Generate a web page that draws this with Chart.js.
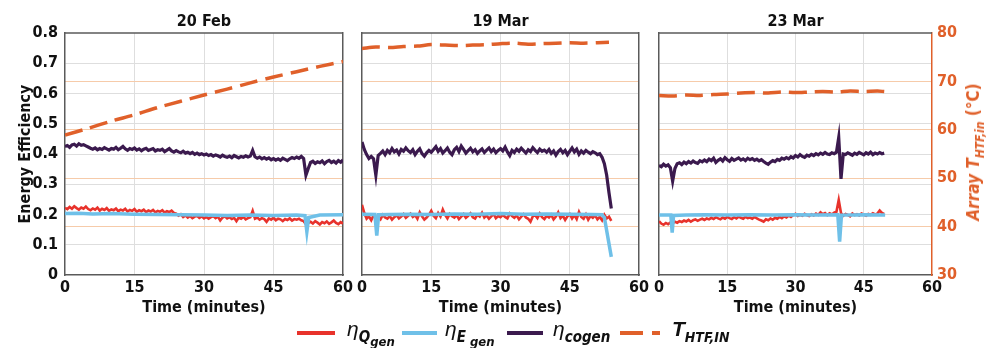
<!DOCTYPE html>
<html>
<head>
<meta charset="utf-8">
<script src="https://cdn.jsdelivr.net/npm/chart.js@4"></script>
<style>
body { margin: 0; background: #fff; }
#lienzo { position: relative; width: 988px; height: 348px; overflow: hidden; font-family: 'Liberation Sans Narrow', 'DejaVu Sans Condensed', sans-serif; }
canvas { position: absolute; left: 0; top: 0; }
.sw { position: absolute; height: 4px; top: 331px; }
.etq { position: absolute; top: 317px; font-size: 21px; line-height: 24px; font-style: italic; color: #111; font-family: 'Liberation Sans', sans-serif; white-space: nowrap; }
.etq .s1 { position: relative; top: 6px; font-size: 15px; font-weight: bold; font-family: 'Liberation Sans Narrow', 'DejaVu Sans Condensed', sans-serif; }
.etq .s2 { position: relative; top: 4px; font-size: 13px; }
#tituloDer { position: absolute; left: 973px; top: 152px; transform: translate(-50%, -50%) rotate(-90deg); color: #e0602a; font-size: 17px; font-weight: bold; font-style: italic; white-space: nowrap; }
#tituloDer .s1 { position: relative; top: 5px; font-size: 12px; }
</style>
</head>
<body>
<div id="lienzo">
  <canvas id="panel1" width="988" height="348"></canvas>
  <canvas id="panel2" width="988" height="348"></canvas>
  <canvas id="panel3" width="988" height="348"></canvas>
  <div id="tituloDer">Array T<span class="s1">HTF,in</span> <span style="font-style:normal">(°C)</span></div>

  <div class="sw" style="left:297px;width:38px;background:#e8322b"></div>
  <div class="etq" style="left:347px">η<span class="s1">Q<span class="s2">gen</span></span></div>
  <div class="sw" style="left:402px;width:35px;background:#6fc0e8"></div>
  <div class="etq" style="left:445px">η<span class="s1">E<span class="s2"> gen</span></span></div>
  <div class="sw" style="left:507px;width:36px;background:#3b1a4e"></div>
  <div class="etq" style="left:553px">η<span class="s1">cogen</span></div>
  <div class="sw" style="left:620px;width:23px;background:#e0602a"></div>
  <div class="sw" style="left:652px;width:8px;background:#e0602a"></div>
  <div class="etq" style="left:672px;font-weight:bold">T<span class="s1" style="font-size:14px">HTF,IN</span></div>
</div>

<script>
// muestras cada medio minuto para las series con ruido
const paso = 0.5;

const titulos = ['20 Feb', '19 Mar', '23 Mar'];
const ticksTiempo = [0, 15, 30, 45, 60];
const ticksEficiencia = [0, 0.1, 0.2, 0.3, 0.4, 0.5, 0.6, 0.7, 0.8];
const ticksTemperatura = [30, 40, 50, 60, 70, 80];

// ---- 20 Feb ----
const cogenFeb20 = [
    0.425, 0.428, 0.422, 0.430, 0.432, 0.426, 0.434, 0.429, 0.431, 0.427, 0.423, 0.419, 0.416, 0.420, 0.414, 0.418, 0.415, 0.421, 0.417, 0.413, 0.418,
    0.416, 0.422, 0.414, 0.419, 0.425, 0.417, 0.412, 0.418, 0.415, 0.420, 0.413, 0.417, 0.411, 0.416, 0.419, 0.412, 0.415, 0.418, 0.410, 0.414,
    0.412, 0.416, 0.408, 0.413, 0.418, 0.410, 0.406, 0.411, 0.407, 0.404, 0.409, 0.403, 0.406, 0.401, 0.405, 0.399, 0.403, 0.398, 0.401, 0.397,
    0.400, 0.395, 0.398, 0.393, 0.397, 0.394, 0.390, 0.396, 0.392, 0.389, 0.393, 0.388, 0.395, 0.391, 0.387, 0.392, 0.389, 0.394, 0.390, 0.393,
    0.412, 0.391, 0.386, 0.390, 0.384, 0.388, 0.383, 0.387, 0.381, 0.385, 0.380, 0.384, 0.379, 0.386, 0.382, 0.378, 0.384, 0.388, 0.385, 0.390,
    0.386, 0.392, 0.385, 0.330, 0.352, 0.372, 0.376, 0.369, 0.374, 0.371, 0.377, 0.368, 0.375, 0.379, 0.372, 0.376, 0.370, 0.378, 0.373, 0.380
];
const qgenFeb20 = [
    0.222, 0.218, 0.225, 0.219, 0.227, 0.221, 0.216, 0.223, 0.219, 0.226, 0.218, 0.214, 0.220, 0.216, 0.223, 0.213, 0.219, 0.215, 0.221, 0.212, 0.217,
    0.214, 0.220, 0.211, 0.216, 0.213, 0.219, 0.210, 0.215, 0.212, 0.218, 0.209, 0.214, 0.211, 0.216, 0.208, 0.213, 0.210, 0.215, 0.207, 0.212,
    0.209, 0.214, 0.206, 0.211, 0.208, 0.213, 0.205, 0.203, 0.196, 0.201, 0.192, 0.197, 0.190, 0.195, 0.188, 0.193, 0.196, 0.189, 0.194, 0.187,
    0.192, 0.186, 0.191, 0.195, 0.188, 0.193, 0.180, 0.190, 0.194, 0.187, 0.191, 0.185, 0.189, 0.178, 0.190, 0.186, 0.192, 0.184, 0.188, 0.191,
    0.212, 0.186, 0.190, 0.183, 0.188, 0.185, 0.176, 0.187, 0.183, 0.189, 0.181, 0.186, 0.184, 0.178, 0.185, 0.182, 0.187, 0.180, 0.185, 0.183,
    0.186, 0.181, 0.178, 0.168, 0.172, 0.176, 0.170, 0.178, 0.173, 0.167, 0.175, 0.171, 0.177, 0.169, 0.174, 0.180, 0.172, 0.168, 0.175, 0.170
];
const tiempoEgenFeb20 = [0, 3, 6, 10, 15, 20, 25, 30, 35, 40, 45, 50, 51.8, 52.2, 52.6, 55, 60];
const egenFeb20 = [0.203, 0.204, 0.202, 0.203, 0.201, 0.200, 0.199, 0.198, 0.197, 0.198, 0.197, 0.198, 0.196, 0.143, 0.190, 0.198, 0.199];
const tiempoTempFeb20 = [0, 5, 10, 15, 20, 25, 30, 35, 40, 45, 50, 55, 60];
const tempFeb20 = [58.9, 60.3, 61.8, 63.1, 64.6, 65.9, 67.2, 68.4, 69.7, 70.9, 72.0, 73.1, 74.1];

// ---- 19 Mar ----
const cogenMar19 = [
    0.440, 0.415, 0.398, 0.385, 0.392, 0.384, 0.330, 0.395, 0.402, 0.410, 0.398, 0.412, 0.404, 0.418, 0.407, 0.413, 0.400, 0.415, 0.409, 0.420, 0.411,
    0.405, 0.414, 0.398, 0.409, 0.417, 0.401, 0.393, 0.404, 0.412, 0.406, 0.415, 0.424, 0.409, 0.418, 0.403, 0.411, 0.420, 0.406, 0.398, 0.414,
    0.422, 0.408, 0.426, 0.415, 0.403, 0.411, 0.419, 0.407, 0.414, 0.402, 0.410, 0.417, 0.405, 0.413, 0.420, 0.408, 0.416, 0.404, 0.412, 0.418,
    0.410, 0.423, 0.407, 0.395, 0.412, 0.405, 0.416, 0.409, 0.419, 0.411, 0.403, 0.414, 0.408, 0.421, 0.412, 0.405, 0.416, 0.409, 0.413, 0.406,
    0.415, 0.402, 0.410, 0.396, 0.408, 0.415, 0.404, 0.412, 0.398, 0.409, 0.420, 0.407, 0.416, 0.399, 0.410, 0.403, 0.412, 0.406, 0.401, 0.408,
    0.404, 0.398, 0.401, 0.389, 0.368, 0.330, 0.272, 0.220
];
const qgenMar19 = [
    0.232, 0.205, 0.186, 0.194, 0.181, 0.197, 0.188, 0.192, 0.184, 0.199, 0.190, 0.186, 0.195, 0.183, 0.191, 0.198, 0.187, 0.193, 0.201, 0.189, 0.196,
    0.203, 0.192, 0.198, 0.186, 0.207, 0.194, 0.183, 0.190, 0.199, 0.212, 0.196, 0.188, 0.205, 0.193, 0.216, 0.199, 0.187, 0.202, 0.194, 0.190,
    0.198, 0.185, 0.193, 0.201, 0.189, 0.196, 0.204, 0.191, 0.187, 0.199, 0.193, 0.206, 0.190, 0.197, 0.186, 0.194, 0.202, 0.188, 0.195, 0.191,
    0.199, 0.192, 0.187, 0.203, 0.195, 0.189, 0.197, 0.184, 0.193, 0.201, 0.190, 0.186, 0.176, 0.194, 0.198, 0.188, 0.203, 0.191, 0.185, 0.196,
    0.190, 0.199, 0.184, 0.193, 0.207, 0.188, 0.196, 0.182, 0.194, 0.201, 0.187, 0.198, 0.185, 0.209, 0.192, 0.186, 0.200, 0.183, 0.195, 0.189,
    0.197, 0.184, 0.192, 0.181, 0.199, 0.187, 0.193, 0.179
];
const tiempoEgenMar19 = [0, 2.8, 3.2, 3.6, 6, 10, 15, 20, 25, 30, 35, 40, 45, 50, 52, 52.5, 54];
const egenMar19 = [0.201, 0.200, 0.130, 0.199, 0.200, 0.201, 0.200, 0.202, 0.201, 0.203, 0.201, 0.202, 0.201, 0.200, 0.199, 0.190, 0.060];
const tiempoTempMar19 = [0, 3, 6, 9, 12, 15, 18, 21, 24, 27, 30, 33, 36, 39, 42, 45, 48, 51, 53.5];
const tempMar19 = [76.8, 77.1, 77.0, 77.2, 77.3, 77.6, 77.5, 77.4, 77.5, 77.6, 77.8, 77.9, 77.7, 77.8, 77.9, 78.0, 77.9, 78.0, 78.1];

// ---- 23 Mar ----
const cogenMar23 = [
    0.362, 0.358, 0.366, 0.360, 0.364, 0.355, 0.310, 0.352, 0.368, 0.371, 0.365, 0.373, 0.368, 0.375, 0.370, 0.377, 0.372, 0.369, 0.378, 0.374,
    0.380, 0.375, 0.383, 0.378, 0.386, 0.372, 0.379, 0.384, 0.377, 0.388, 0.381, 0.376, 0.385, 0.379, 0.383, 0.387, 0.380, 0.384, 0.378, 0.386,
    0.381, 0.385, 0.379, 0.383, 0.377, 0.381, 0.375, 0.370, 0.366, 0.373, 0.378, 0.375, 0.382, 0.379, 0.386, 0.383, 0.388, 0.384, 0.391, 0.387,
    0.395, 0.390, 0.398, 0.392, 0.389, 0.396, 0.393, 0.399, 0.395, 0.401, 0.397, 0.403, 0.399, 0.405, 0.400, 0.398, 0.404, 0.401, 0.406, 0.455,
    0.318, 0.400, 0.398, 0.404, 0.400, 0.396, 0.403, 0.399, 0.405, 0.401, 0.397, 0.404, 0.400, 0.406, 0.398, 0.403, 0.400, 0.405, 0.401, 0.403
];
const qgenMar23 = [
    0.178, 0.170, 0.166, 0.172, 0.168, 0.174, 0.171, 0.176, 0.173, 0.178, 0.175, 0.180, 0.177, 0.182, 0.176, 0.181, 0.184, 0.179, 0.183, 0.186,
    0.182, 0.187, 0.184, 0.189, 0.185, 0.191, 0.187, 0.184, 0.190, 0.186, 0.192, 0.188, 0.185, 0.191, 0.187, 0.193, 0.189, 0.186, 0.192, 0.188,
    0.190, 0.186, 0.192, 0.187, 0.183, 0.180, 0.176, 0.184, 0.181, 0.187, 0.183, 0.189, 0.186, 0.192, 0.188, 0.194, 0.190, 0.196, 0.192, 0.198,
    0.202, 0.195, 0.199, 0.196, 0.202, 0.198, 0.195, 0.201, 0.197, 0.203, 0.199, 0.207, 0.201, 0.205, 0.198, 0.204, 0.200, 0.206, 0.209, 0.248,
    0.205, 0.196, 0.202, 0.199, 0.194, 0.203, 0.198, 0.201, 0.197, 0.203, 0.200, 0.196, 0.202, 0.199, 0.204, 0.200, 0.203, 0.213, 0.205, 0.202
];
const tiempoEgenMar23 = [0, 2.6, 2.9, 3.2, 6, 10, 15, 20, 25, 30, 35, 39.3, 39.7, 40.1, 45, 49.7];
const egenMar23 = [0.198, 0.198, 0.140, 0.197, 0.198, 0.199, 0.198, 0.199, 0.198, 0.199, 0.198, 0.199, 0.110, 0.198, 0.199, 0.198];
const tiempoTempMar23 = [0, 3, 6, 9, 12, 15, 18, 21, 24, 27, 30, 33, 36, 39, 42, 45, 48, 49.5];
const tempMar23 = [67.1, 67.0, 67.2, 67.1, 67.3, 67.4, 67.6, 67.7, 67.6, 67.8, 67.7, 67.8, 67.9, 67.8, 68.0, 67.9, 68.0, 67.9];

const rojo = '#e8322b';
const celeste = '#6fc0e8';
const morado = '#3b1a4e';
const naranja = '#e0602a';
const grisRejilla = '#dedede';
const grisBorde = '#5a5a5a';
const fuente = "'Liberation Sans Narrow', 'DejaVu Sans Condensed', sans-serif";

Chart.defaults.font.family = fuente;

function serieMuestreada(valores) {
    return valores.map((v, i) => ({ x: i * paso, y: v }));
}

function serieConTiempo(tiempos, valores) {
    return tiempos.map((t, i) => ({ x: t, y: valores[i] }));
}

// linea superior del recuadro (estilo matlab)
const marcoSuperior = {
    id: 'marcoSuperior',
    afterDatasetsDraw(chart) {
        const a = chart.chartArea;
        const ctx = chart.ctx;
        ctx.save();
        ctx.strokeStyle = grisBorde;
        ctx.lineWidth = 1.5;
        ctx.beginPath();
        ctx.moveTo(a.left, a.top);
        ctx.lineTo(a.right, a.top);
        ctx.stroke();
        ctx.restore();
    }
};

function crearPanel(id, titulo, series, geo) {
    return new Chart(document.getElementById(id), {
        type: 'line',
        data: {
            datasets: [
                { label: 'T', data: series.temp, yAxisID: 'yT', borderColor: naranja, borderWidth: 3.5, borderDash: [18, 8], pointRadius: 0, tension: 0.3 },
                { label: 'cogen', data: series.cogen, yAxisID: 'y', borderColor: morado, borderWidth: 3.2, pointRadius: 0 },
                { label: 'Egen', data: series.egen, yAxisID: 'y', borderColor: celeste, borderWidth: 3.5, pointRadius: 0 },
                { label: 'Qgen', data: series.qgen, yAxisID: 'y', borderColor: rojo, borderWidth: 2.6, pointRadius: 0 }
            ]
        },
        options: {
            responsive: false,
            animation: false,
            events: [],
            layout: { padding: { left: geo.padIzq, right: geo.padDer, top: 0, bottom: 0 } },
            plugins: {
                legend: { display: false },
                tooltip: { enabled: false },
                title: {
                    display: true,
                    text: titulo,
                    fullSize: false,
                    color: '#111',
                    font: { size: 16, weight: 'bold', lineHeight: 1.2 },
                    padding: { top: 12, bottom: 1.8 }
                }
            },
            scales: {
                x: {
                    type: 'linear',
                    min: 0,
                    max: 60,
                    afterBuildTicks: s => { s.ticks = ticksTiempo.map(v => ({ value: v })); },
                    afterFit: s => { s.height = 73; s.paddingLeft = 0; s.paddingRight = 0; },
                    grid: { drawTicks: false, color: c => (c.tick && (c.tick.value === 0 || c.tick.value === 60)) ? 'rgba(0,0,0,0)' : grisRejilla },
                    border: { color: grisBorde, width: 1.5 },
                    ticks: { color: '#111', font: { size: 16, weight: 'bold' }, padding: 3, maxRotation: 0 },
                    title: { display: true, text: 'Time (minutes)', color: '#111', font: { size: 16, weight: 'bold', lineHeight: 1.2 }, padding: { top: 0, bottom: 31 } }
                },
                y: {
                    position: 'left',
                    min: 0,
                    max: 0.8,
                    afterBuildTicks: s => { s.ticks = ticksEficiencia.map(v => ({ value: v })); },
                    afterFit: s => { s.width = geo.anchoIzq; s.paddingTop = 0; s.paddingBottom = 0; },
                    grid: { drawTicks: false, color: c => (c.tick && (c.tick.value === 0 || c.tick.value === 0.8)) ? 'rgba(0,0,0,0)' : grisRejilla },
                    border: { color: grisBorde, width: 1.5 },
                    ticks: {
                        display: geo.etiquetasIzq,
                        color: '#111',
                        font: { size: 16, weight: 'bold' },
                        padding: 7,
                        callback: v => v === 0 ? '0' : v.toFixed(1)
                    },
                    title: { display: geo.etiquetasIzq, text: 'Energy Efficiency', color: '#111', font: { size: 16, weight: 'bold', lineHeight: 1.2 }, padding: { top: 16, bottom: 0 } }
                },
                yT: {
                    position: 'right',
                    min: 30,
                    max: 80,
                    afterBuildTicks: s => { s.ticks = ticksTemperatura.map(v => ({ value: v })); },
                    afterFit: s => { s.width = geo.anchoDer; s.paddingTop = 0; s.paddingBottom = 0; },
                    grid: { drawTicks: false, color: c => (c.tick && (c.tick.value === 30 || c.tick.value === 80)) ? 'rgba(0,0,0,0)' : '#f6cbaa' },
                    border: { color: geo.etiquetasDer ? naranja : grisBorde, width: 1.5 },
                    ticks: { display: geo.etiquetasDer, color: naranja, font: { size: 16, weight: 'bold' }, padding: 5 }
                }
            }
        },
        plugins: [marcoSuperior]
    });
}

crearPanel('panel1', titulos[0], {
    temp: serieConTiempo(tiempoTempFeb20, tempFeb20),
    cogen: serieMuestreada(cogenFeb20),
    egen: serieConTiempo(tiempoEgenFeb20, egenFeb20),
    qgen: serieMuestreada(qgenFeb20)
}, { padIzq: 0, anchoIzq: 65, padDer: 988 - 343, anchoDer: 0, etiquetasIzq: true, etiquetasDer: false });

crearPanel('panel2', titulos[1], {
    temp: serieConTiempo(tiempoTempMar19, tempMar19),
    cogen: serieMuestreada(cogenMar19),
    egen: serieConTiempo(tiempoEgenMar19, egenMar19),
    qgen: serieMuestreada(qgenMar19)
}, { padIzq: 362, anchoIzq: 0, padDer: 988 - 639, anchoDer: 0, etiquetasIzq: false, etiquetasDer: false });

crearPanel('panel3', titulos[2], {
    temp: serieConTiempo(tiempoTempMar23, tempMar23),
    cogen: serieMuestreada(cogenMar23),
    egen: serieConTiempo(tiempoEgenMar23, egenMar23),
    qgen: serieMuestreada(qgenMar23)
}, { padIzq: 659, anchoIzq: 0, padDer: 0, anchoDer: 988 - 932, etiquetasIzq: false, etiquetasDer: true });
</script>
</body>
</html>
